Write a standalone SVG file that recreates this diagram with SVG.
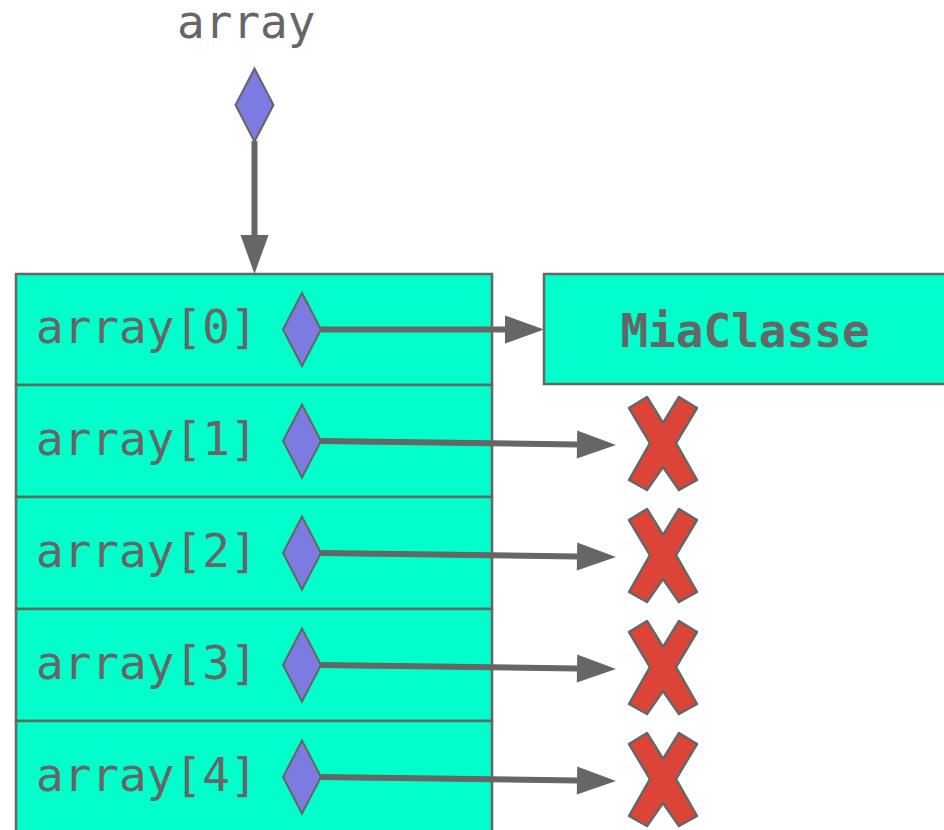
<svg xmlns="http://www.w3.org/2000/svg" width="944" height="830" viewBox="0 0 944 830">
<style>
.cell{fill:#00FFCA;stroke:#666;stroke-width:2.5}
.lbl{font-family:"DejaVu Sans Mono","Liberation Mono",monospace;font-size:46px;fill:#666}
.bold{font-weight:bold}
.dia{fill:#7B7BE0;stroke:#666;stroke-width:2}
.x{fill:#DB4437;stroke:#666;stroke-width:2.5;stroke-linejoin:round}
.conn{stroke:#666;stroke-width:6;fill:none}
</style>
<defs>
<marker id="ah" markerUnits="userSpaceOnUse" markerWidth="40" markerHeight="30" refX="0" refY="14" orient="auto" overflow="visible">
<path d="M0,0 L39,14 L0,28 Z" fill="#666"/>
</marker>
<polygon id="xshape" points="-34,-35 -16,-46 0,-20 16,-46 34,-35 13,0 34,37 16,47 0,24 -16,47 -34,37 -13,0"/>
<polygon id="dshape" points="0,-36.5 19,0 0,36.5 -19,0"/>
</defs>
<g id="title">
<text class="lbl" x="177" y="38">array</text>
<use href="#dshape" class="dia" x="254.5" y="105"/>
</g>
<g id="row0">
<rect class="cell" x="16" y="274" width="476" height="111"/>
<text class="lbl" x="36" y="343">array[0]</text>
<use href="#dshape" class="dia" x="302" y="329.5"/>
</g>
<g id="row1">
<rect class="cell" x="16" y="385" width="476" height="112"/>
<text class="lbl" x="36" y="455">array[1]</text>
<use href="#dshape" class="dia" x="302" y="441"/>
</g>
<g id="row2">
<rect class="cell" x="16" y="497" width="476" height="112"/>
<text class="lbl" x="36" y="567">array[2]</text>
<use href="#dshape" class="dia" x="302" y="553"/>
</g>
<g id="row3">
<rect class="cell" x="16" y="609" width="476" height="112"/>
<text class="lbl" x="36" y="679">array[3]</text>
<use href="#dshape" class="dia" x="302" y="665"/>
</g>
<g id="row4">
<rect class="cell" x="16" y="721" width="476" height="115"/>
<text class="lbl" x="36" y="791">array[4]</text>
<use href="#dshape" class="dia" x="302" y="777"/>
</g>
<g id="miaclasse">
<rect class="cell" x="544" y="274" width="406" height="110"/>
<text class="lbl bold" x="745" y="347" text-anchor="middle">MiaClasse</text>
</g>
<g id="nulls">
<use href="#xshape" class="x" x="663" y="443"/>
<use href="#xshape" class="x" x="663" y="555"/>
<use href="#xshape" class="x" x="663" y="667"/>
<use href="#xshape" class="x" x="663" y="779"/>
</g>
<g id="connectors">
<line class="conn" x1="254.5" y1="141" x2="254.5" y2="235" marker-end="url(#ah)"/>
<line class="conn" x1="321" y1="329.5" x2="505" y2="329.5" marker-end="url(#ah)"/>
<line class="conn" x1="321" y1="441" x2="577" y2="444.5" marker-end="url(#ah)"/>
<line class="conn" x1="321" y1="553" x2="577" y2="556.5" marker-end="url(#ah)"/>
<line class="conn" x1="321" y1="665" x2="577" y2="668.5" marker-end="url(#ah)"/>
<line class="conn" x1="321" y1="777" x2="577" y2="780.5" marker-end="url(#ah)"/>
</g>
</svg>
